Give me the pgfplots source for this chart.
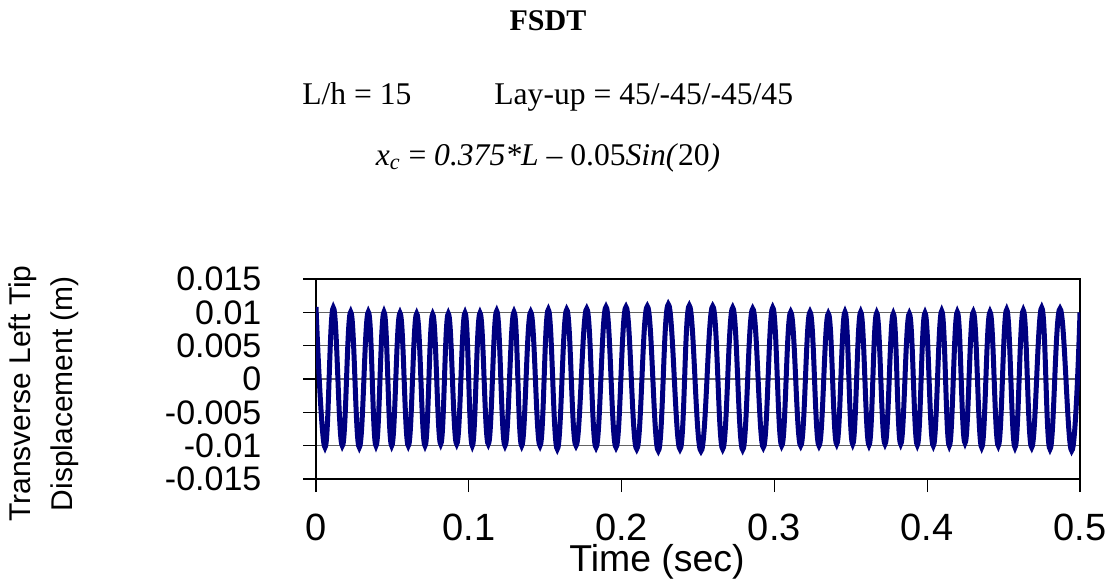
\documentclass[border=0pt]{standalone}
\usepackage{fontspec}
\setmainfont{Liberation Sans}
\newfontfamily\tnr{Liberation Serif}
\usepackage{pgfplots}
\pgfplotsset{compat=1.18}
\definecolor{navy}{RGB}{0,0,128}
\definecolor{gridc}{RGB}{100,100,100}
\begin{document}
\begin{tikzpicture}
\path[use as bounding box] (0pt,0pt) rectangle (556pt,-292pt);
\begin{axis}[
  at={(158pt,-239.5pt)}, anchor=south west,
  width=382pt, height=100pt, scale only axis,
  xmin=0, xmax=0.5, ymin=-0.015, ymax=0.015,
  xtick={0,0.1,0.2,0.3,0.4,0.5},
  xticklabels={0,0.1,0.2,0.3,0.4,0.5},
  ytick={-0.015,-0.01,-0.005,0,0.005,0.01,0.015},
  yticklabels={-0.015,-0.01,-0.005,0,0.005,0.01,0.015},
  scaled y ticks=false, scaled x ticks=false,
  xtick pos=bottom, ytick pos=left,
  tick align=outside, major tick length=6.5pt,
  tick style={black, line width=0.6pt},
  ymajorgrids, grid style={gridc, line width=0.6pt},
  axis line style={black, line width=0.6pt},
  xticklabel style={font=\fontsize{19}{19}\selectfont, anchor=base, yshift=-24pt},
  yticklabel style={font=\fontsize{17}{17}\selectfont, anchor=east, xshift=-17.3pt},
]
\addplot[navy, line width=2.5pt, smooth, tension=0.75] coordinates {
(0,0.0108) (0.00589,-0.01025) (0.01132,0.0107) (0.01721,-0.0100) (0.02271,0.01005)
(0.02834,-0.01025) (0.03423,0.01005) (0.03927,-0.0100) (0.04450,0.01005) (0.04954,-0.0100)
(0.05497,0.0099) (0.06041,-0.0100) (0.06590,0.0098) (0.07134,-0.0100) (0.07637,0.0097)
(0.08161,-0.00975) (0.08658,0.0098) (0.09208,-0.00975) (0.09751,0.0099) (0.10229,-0.0100)
(0.10733,0.0099) (0.11276,-0.00975) (0.11826,0.0102) (0.12369,-0.0100) (0.12958,0.01005)
(0.13462,-0.0100) (0.14051,0.01005) (0.14660,-0.0100) (0.15203,0.0104) (0.15792,-0.0105)
(0.16407,0.0104) (0.17016,-0.0100) (0.17716,0.01054) (0.18325,-0.01025) (0.18979,0.0108)
(0.19634,-0.01025) (0.20288,0.0108) (0.20988,-0.0105) (0.21682,0.0109) (0.22402,-0.01075)
(0.23056,0.0112) (0.23822,-0.0105) (0.24431,0.0110) (0.25196,-0.0108) (0.25962,0.0109)
(0.26616,-0.0105) (0.27271,0.0107) (0.27925,-0.0106) (0.28580,0.01054) (0.29274,-0.01025)
(0.29889,0.0107) (0.30478,-0.0100) (0.31067,0.01005) (0.31721,-0.0100) (0.32330,0.01005)
(0.32919,-0.0100) (0.33528,0.0098) (0.34077,-0.00975) (0.34620,0.01005) (0.35124,-0.00975)
(0.35648,0.01005) (0.36191,-0.0099) (0.36695,0.0099) (0.37238,-0.00975) (0.37782,0.0098)
(0.38266,-0.00975) (0.38828,0.0098) (0.39352,-0.0099) (0.39856,0.0099) (0.40399,-0.0100)
(0.40949,0.0102) (0.41446,-0.0100) (0.41970,0.01005) (0.42474,-0.0096) (0.43017,0.01005)
(0.43566,-0.01025) (0.44110,0.01005) (0.44653,-0.0100) (0.45202,0.0104) (0.45746,-0.01025)
(0.46289,0.0103) (0.46839,-0.01025) (0.47493,0.0107) (0.48037,-0.0105) (0.48691,0.01054)
(0.49456,-0.01075) (0.5,0.0100)
};
\end{axis}
\node[font=\tnr\bfseries\fontsize{15}{17}\selectfont, anchor=base] at (274pt,-15pt) {FSDT};
\node[font=\tnr\fontsize{15.8}{18}\selectfont, anchor=base west, inner sep=0pt] at (151pt,-52.2pt) {L/h = 15};
\node[font=\tnr\fontsize{15.8}{18}\selectfont, anchor=base west, inner sep=0pt] at (247pt,-52.2pt) {Lay-up = 45/-45/-45/45};
\node[font=\tnr\fontsize{15.8}{18}\selectfont, anchor=base, inner sep=0pt] at (274pt,-82.5pt) {\textit{x}\textsubscript{\textit{c}} = \textit{0.375*L} – 0.05\textit{Sin(}20\textit{)}};
\node[rotate=90, align=center, font=\fontsize{15}{20.8}\selectfont] at (21.75pt,-196.75pt) {Transverse Left Tip\\Displacement (m)};
\node[font=\fontsize{18.7}{20}\selectfont, anchor=base] at (328.5pt,-285.8pt) {Time (sec)};
\end{tikzpicture}
\end{document}
